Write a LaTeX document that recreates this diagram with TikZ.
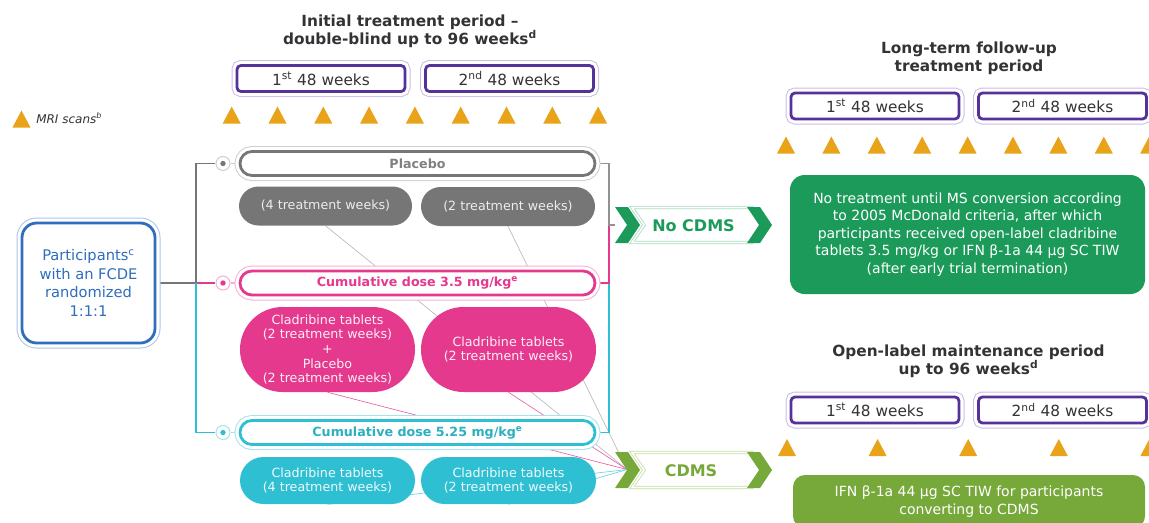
\documentclass[tikz,border=0pt]{standalone}
\usepackage{fontspec}
\setmainfont{DejaVu Sans}
\usetikzlibrary{shapes.misc,calc}
\pgfdeclarelayer{bg}
\pgfsetlayers{bg,main}
\definecolor{purpD}{HTML}{55329A}
\definecolor{purpL}{HTML}{C9BDE3}
\definecolor{mri}{HTML}{E9A319}
\definecolor{grayD}{HTML}{767676}
\definecolor{grayL}{HTML}{CFCFCF}
\definecolor{grayT}{HTML}{808080}
\definecolor{pinkD}{HTML}{E5398E}
\definecolor{pinkL}{HTML}{F5B3D3}
\definecolor{cyanD}{HTML}{2FBFD3}
\definecolor{cyanL}{HTML}{A8E3EC}
\definecolor{blueD}{HTML}{2F6DBD}
\definecolor{blueL}{HTML}{A9C4E8}
\definecolor{greenD}{HTML}{1B9A59}
\definecolor{greenL}{HTML}{A9DCC0}
\definecolor{oliveD}{HTML}{77A83A}
\definecolor{oliveL}{HTML}{C4DCA0}
\definecolor{ink}{HTML}{333333}
\def\u{0.75pt}
\begin{document}
\begin{tikzpicture}[x=0.75pt,y=-0.75pt,
  ring/.style 2 args={draw=#1, line width=2.1pt, fill=white,
    preaction={draw=#2, line width=8.25pt},
    preaction={draw=white, line width=6.75pt}},
  ttl/.style={align=center, text=ink, font=\bfseries\fontsize{11.5}{13.5}\selectfont},
  wbox/.style={rectangle, rounded corners=3pt, ring={purpD}{purpL}, inner sep=0pt,
    minimum width=168*\u, minimum height=26*\u, text=ink, font=\fontsize{11.5}{13}\selectfont},
  rowbox/.style 2 args={rounded rectangle, ring={#1}{#2}, inner sep=0pt,
    minimum width=355*\u, minimum height=24*\u, text=#1,
    font=\bfseries\fontsize{9.5}{11}\selectfont},
  pill/.style 2 args={rounded rectangle, fill=#1, text=#2, inner sep=0pt, align=center,
    minimum width=175*\u, font=\fontsize{9.5}{10.9}\selectfont},
  dotc/.style={circle, draw=#1, fill=white, line width=0.8pt, minimum size=14*\u, inner sep=0pt},
  conn/.style={draw=#1, line width=0.8pt},
  thinl/.style={draw=#1, line width=0.5pt},
]
\useasboundingbox (0,0) rectangle (1149,522);
\clip (0,0) rectangle (1149,522);

% titles
\node[ttl] (t1) at (410,31) {Initial treatment period –\\double-blind up to 96 weeks\textsuperscript{d}};
\node[ttl] (t2) at (969,58) {Long-term follow-up\\treatment period};
\node[ttl] (t3) at (968.5,361) {Open-label maintenance period\\up to 96 weeks\textsuperscript{d}};

% week boxes
\node[wbox] (w11) at (321,78.5) {1\textsuperscript{st} 48 weeks};
\node[wbox] (w12) at (509.5,78.5) {2\textsuperscript{nd} 48 weeks};
\node[wbox] (w21) at (875,106) {1\textsuperscript{st} 48 weeks};
\node[wbox] (w22) at (1062.5,106) {2\textsuperscript{nd} 48 weeks};
\node[wbox] (w31) at (875,410) {1\textsuperscript{st} 48 weeks};
\node[wbox] (w32) at (1062.5,410) {2\textsuperscript{nd} 48 weeks};

% MRI triangles
\foreach \x in {231.7,277.5,323.3,369.1,414.9,460.7,506.5,552.3,598.1}
  \fill[mri] (\x-9,123.5) -- (\x+9,123.5) -- (\x,106.5) -- cycle;
\foreach \x in {786,831.4,876.8,922.2,967.6,1013,1058.4,1103.8,1149.2}
  \fill[mri] (\x-9,153.5) -- (\x+9,153.5) -- (\x,136.5) -- cycle;
\foreach \x in {787,877.6,968.2,1058.8,1149.4}
  \fill[mri] (\x-9,456) -- (\x+9,456) -- (\x,439) -- cycle;
\fill[mri] (12.5,127.5) -- (30.5,127.5) -- (21.5,110.5) -- cycle;
\node[anchor=west, text=ink, inner sep=0pt, font=\itshape\fontsize{9}{10}\selectfont] (leg) at (36,118) {MRI scans\textsuperscript{b}};

% participants
\node[rectangle, rounded corners=11pt, ring={blueD}{blueL}, inner sep=0pt,
  minimum width=133*\u, minimum height=120*\u, align=center, text=blueD,
  font=\fontsize{11}{13.9}\selectfont] (part) at (88.5,283)
  {Participants\textsuperscript{c}\\with an FCDE\\randomized\\1:1:1};

% arm rows
\node[dotc=grayL] (c1) at (223,163.5) {};
\node[dotc=pinkL] (c2) at (223,283) {};
\node[dotc=cyanL] (c3) at (223,432.5) {};
\fill[grayD] (c1) circle[radius=2pt];
\fill[pinkD] (c2) circle[radius=2pt];
\fill[cyanD] (c3) circle[radius=2pt];
\node[rowbox={grayD}{grayL}, text=grayT] (r1) at (417.5,163.5) {Placebo};
\node[rowbox={pinkD}{pinkL}] (r2) at (417.5,283) {Cumulative dose 3.5 mg/kg\textsuperscript{e}};
\node[rowbox={cyanD}{cyanL}, text=cyanD!92!black] (r3) at (417.5,432.5) {Cumulative dose 5.25 mg/kg\textsuperscript{e}};

% pills
\node[pill={grayD}{white!86!gray}, minimum width=173*\u, minimum height=39*\u] (g1) at (325.5,206) {(4 treatment weeks)};
\node[pill={grayD}{white!86!gray}, minimum width=174*\u, minimum height=39*\u] (g2) at (508,206.5) {(2 treatment weeks)};
\node[pill={pinkD}{white!92!pinkD}, minimum height=85*\u] (p1) at (327.5,349.5)
  {Cladribine tablets\\(2 treatment weeks)\\+\\Placebo\\(2 treatment weeks)};
\node[pill={pinkD}{white!92!pinkD}, minimum height=85*\u] (p2) at (508.5,349.5)
  {Cladribine tablets\\(2 treatment weeks)};
\node[pill={cyanD}{white!92!cyanD}, minimum height=47*\u] (q1) at (327.5,480.5)
  {Cladribine tablets\\(4 treatment weeks)};
\node[pill={cyanD}{white!92!cyanD}, minimum height=47*\u] (q2) at (508.5,480.5)
  {Cladribine tablets\\(2 treatment weeks)};

% outcome boxes
\node[rectangle, rounded corners=11pt, fill=greenD, text=white, inner sep=0pt, align=center,
  minimum width=355*\u, minimum height=119*\u, font=\fontsize{10.5}{13.1}\selectfont] (nobox) at (967.5,234.5)
  {No treatment until MS conversion according\\to 2005 McDonald criteria, after which\\participants received open-label cladribine\\tablets 3.5 mg/kg or IFN β-1a 44 µg SC TIW\\(after early trial termination)};
\node[rectangle, rounded corners=9pt, fill=oliveD, text=white, inner sep=0pt, align=center,
  minimum width=352*\u, minimum height=53*\u, font=\fontsize{10.5}{13.1}\selectfont] (olbox) at (969,501.5)
  {IFN β-1a 44 µg SC TIW for participants\\converting to CDMS};

% chevron arrows
\coordinate (nc) at (615,225);
\coordinate (cc) at (615,470);
\begin{scope}[shift={(nc)}]
  \draw[greenL, line width=0.6pt, double=white, double distance=1.2pt, line join=miter]
    (17,-17.5) -- (137,-17.5) -- (149,0) -- (137,17.5) -- (17,17.5) -- (29,0) -- cycle;
  \fill[greenD] (0,-18) -- (13,-18) -- (25,0) -- (13,18) -- (0,18) -- (12,0) -- cycle;
  \fill[greenD] (132,-18) -- (145,-18) -- (157,0) -- (145,18) -- (132,18) -- (144,0) -- cycle;
\end{scope}
\node[text=greenD, font=\bfseries\fontsize{12}{14}\selectfont] (nol) at (693.5,226) {No CDMS};
\begin{scope}[shift={(cc)}]
  \draw[oliveL, line width=0.6pt, double=white, double distance=1.2pt, line join=miter]
    (17,-17.5) -- (137,-17.5) -- (149,0) -- (137,17.5) -- (17,17.5) -- (29,0) -- cycle;
  \fill[oliveD] (0,-18) -- (13,-18) -- (25,0) -- (13,18) -- (0,18) -- (12,0) -- cycle;
  \fill[oliveD] (132,-18) -- (145,-18) -- (157,0) -- (145,18) -- (132,18) -- (144,0) -- cycle;
\end{scope}
\node[text=oliveD, font=\bfseries\fontsize{12}{14}\selectfont] (cl) at (691,471) {CDMS};

% connectors (behind)
\coordinate (jL) at (196,283);
\coordinate (jR) at (609,225);
\coordinate (jR2) at (609,283);
\coordinate (cdmsN) at (627,469.5);
\begin{pgfonlayer}{bg}
  \draw[thinl=gray!55] (g1.south) -- (cdmsN);
  \draw[thinl=gray!55] (g2.south) -- (cdmsN);
  \draw[thinl=pinkD!80] (p1.south) -- (cdmsN);
  \draw[thinl=pinkD!80] (p2.south) -- (cdmsN);
  \draw[thinl=cyanD!70] (q1.south) -- (cdmsN);
  \draw[thinl=cyanD!70] (q2.south) -- (cdmsN);
  \draw[conn=grayD] (part.east) -- (jL);
  \draw[conn=pinkD] (jL) -- (c2.west);
  \draw[conn=grayD] (jL) |- (c1.west);
  \draw[conn=cyanD] (jL) |- (c3.west);
  \draw[conn=grayL] (c1.east) -- (r1.west);
  \draw[conn=pinkL] (c2.east) -- (r2.west);
  \draw[conn=cyanL] (c3.east) -- (r3.west);
  \draw[conn=cyanD] (r3.east) -| (jR2);
  \draw[conn=pinkD] (r2.east) -| (jR);
  \draw[conn=grayD!80] (r1.east) -| (jR) -- (nc);
\end{pgfonlayer}
\end{tikzpicture}
\end{document}
